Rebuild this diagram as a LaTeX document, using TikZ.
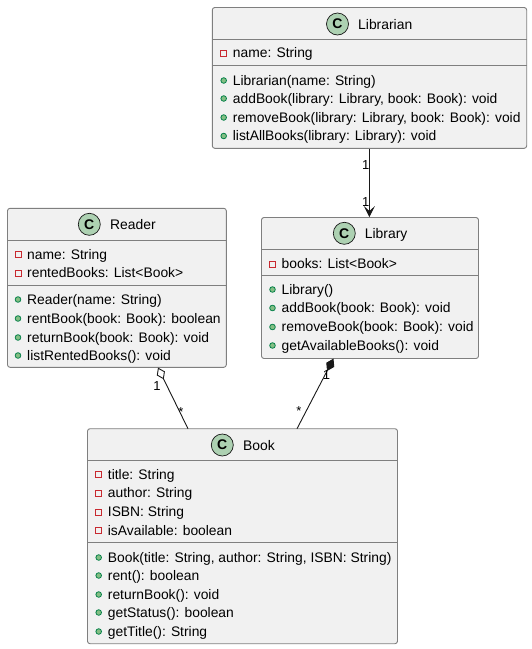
\documentclass[tikz,border=0pt]{standalone}
\usepackage{fontspec}
\setmainfont{Liberation Sans}
\usetikzlibrary{arrows.meta}
\definecolor{boxfill}{HTML}{F1F1F1}
\definecolor{boxline}{HTML}{7F7F7F}
\definecolor{icongreen}{HTML}{ADD1B2}
\definecolor{privred}{HTML}{C82930}
\definecolor{pubfill}{HTML}{84BE84}
\definecolor{publine}{HTML}{038048}
\definecolor{ink}{HTML}{181818}
\tikzset{
  umlbox/.style={draw=boxline,fill=boxfill,line width=0.9pt,rounded corners=2.5pt,inner sep=0pt,minimum width=#1},
  sep/.style={draw=boxline,line width=0.9pt},
  badge/.style={circle,draw=ink,fill=icongreen,line width=0.7pt,minimum size=22pt,inner sep=0pt,font=\fontsize{14}{14}\selectfont\bfseries},
  title/.style={anchor=base west,inner sep=0pt,text=black,font=\fontsize{13.9}{15}\selectfont},
  member/.style={anchor=base west,inner sep=0pt,text=black,font=\fontsize{13.85}{15}\selectfont},
  mult/.style={inner sep=0pt,text=black,font=\fontsize{13}{15}\selectfont},
  privmark/.style={rectangle,draw=privred,line width=0.8pt,minimum size=6pt,inner sep=0pt},
  pubmark/.style={circle,draw=publine,fill=pubfill,line width=0.8pt,minimum size=5.6pt,inner sep=0pt},
  link/.style={draw=ink,line width=0.9pt}
}
\newcommand{\privrow}[4]{\node[privmark] (#1m) at (#2-9,#3) {};\node[member] (#1) at (#2,#3+4.8) {#4};}
\newcommand{\pubrow}[4]{\node[pubmark] (#1m) at (#2-9,#3) {};\node[member] (#1) at (#2,#3+4.8) {#4};}
\begin{document}
\begin{tikzpicture}[x=1pt,y=-1pt]
\useasboundingbox (0,0) rectangle (532,649);
% Librarian
\node[umlbox=314.4pt,minimum height=140.8pt] (librarian) at (369.5,77.9) {};
\draw[sep] (212.3,39.3) -- (526.7,39.3);
\draw[sep] (212.3,65.3) -- (526.7,65.3);
\node[badge] (librarianC) at (337.5,24) {C};
\node[title] (librarianT) at (358,29.3) {Librarian};
\privrow{la}{232.7}{53}{name: String}
\pubrow{lb}{232.7}{80.5}{Librarian(name: String)}
\pubrow{lc}{232.7}{98.5}{addBook(library: Library, book: Book): void}
\pubrow{ld}{232.7}{117.5}{removeBook(library: Library, book: Book): void}
\pubrow{le}{232.7}{136}{listAllBooks(library: Library): void}
% Reader
\node[umlbox=218.8pt,minimum height=159pt] (reader) at (116.9,287.8) {};
\draw[sep] (7.5,240.7) -- (226.3,240.7);
\draw[sep] (7.5,285.3) -- (226.3,285.3);
\node[badge] (readerC) at (89.3,224.3) {C};
\node[title] (readerT) at (110,229.8) {Reader};
\privrow{ra}{27}{254.5}{name: String}
\privrow{rb}{27}{273}{rentedBooks: List<Book>}
\pubrow{rc}{27}{299.5}{Reader(name: String)}
\pubrow{rd}{27}{318.5}{rentBook(book: Book): boolean}
\pubrow{re}{27}{337.5}{returnBook(book: Book): void}
\pubrow{rf}{27}{355.5}{listRentedBooks(): void}
% Library
\node[umlbox=217pt,minimum height=141pt] (library) at (370,288) {};
\draw[sep] (261.5,249) -- (478.5,249);
\draw[sep] (261.5,275) -- (478.5,275);
\node[badge] (libraryC) at (344.3,233.3) {C};
\node[title] (libraryT) at (364.7,238.8) {Library};
\privrow{ya}{281.5}{264}{books: List<Book>}
\pubrow{yb}{281.5}{289.5}{Library()}
\pubrow{yc}{281.5}{308}{addBook(book: Book): void}
\pubrow{yd}{281.5}{327}{removeBook(book: Book): void}
\pubrow{ye}{281.5}{345.5}{getAvailableBooks(): void}
% Book
\node[umlbox=310pt,minimum height=215pt] (book) at (242.5,536.2) {};
\draw[sep] (87.5,460.3) -- (397.5,460.3);
\draw[sep] (87.5,542.3) -- (397.5,542.3);
\node[badge] (bookC) at (222.3,445) {C};
\node[title] (bookT) at (243,450.3) {Book};
\privrow{ba}{107.7}{474.5}{title: String}
\privrow{bb}{107.7}{493}{author: String}
\privrow{bc}{107.7}{512}{ISBN: String}
\privrow{bd}{107.7}{530.5}{isAvailable: boolean}
\pubrow{be}{107.7}{557.5}{Book(title: String, author: String, ISBN: String)}
\pubrow{bf}{107.7}{575.5}{rent(): boolean}
\pubrow{bg}{107.7}{594.5}{returnBook(): void}
\pubrow{bh}{107.7}{612.5}{getStatus(): boolean}
\pubrow{bi}{107.7}{631.5}{getTitle(): String}
% Connectors
\coordinate (readerOut) at (158,367.6);
\coordinate (bookInR) at (188,428.7);
\coordinate (libraryOut) at (333.5,358.6);
\coordinate (bookInL) at (297,428.7);
\draw[link,-{Stealth[inset=5pt,length=11pt,width=11pt]}] (369.4,0 |- librarian.south) -- (369.4,0 |- library.north);
\draw[link,{Diamond[open,length=13pt,width=9pt,fill=white]}-] (readerOut) -- (bookInR);
\draw[link,{Diamond[length=14pt,width=9pt]}-] (libraryOut) -- (bookInL);
% Multiplicities
\node[mult] (m1) at (365.8,165.5) {1};
\node[mult] (m2) at (365.8,202) {1};
\node[mult] (m3) at (157,386) {1};
\node[mult] (m4) at (181,412) {*};
\node[mult] (m5) at (326.5,375) {1};
\node[mult] (m6) at (299,411) {*};
\end{tikzpicture}
\end{document}
